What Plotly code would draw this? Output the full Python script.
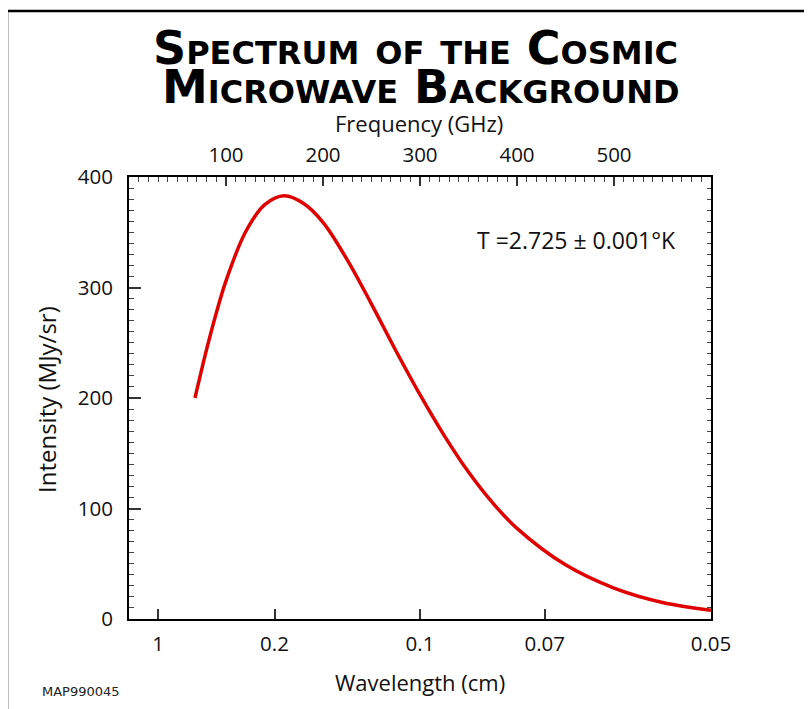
import plotly.graph_objects as go

# Data
frequency_ghz = [68, 80, 90, 100, 120, 140, 160, 180, 200, 225, 250, 275, 300,
                 325, 350, 375, 400, 450, 500, 550, 600]
intensity_mjy = [200, 244, 277, 306, 350, 375, 383, 376, 359, 325, 285, 243, 203,
                 166, 133, 105, 82, 49, 28, 15, 8]

top_tick_vals = [100, 200, 300, 400, 500]
top_tick_text = ["100", "200", "300", "400", "500"]
wavelength_labels = ["1", "0.2", "0.1", "0.07", "0.05"]
wavelength_freqs = [30, 150, 300, 428.57, 600]   # GHz positions of wavelength ticks
y_tick_vals = [0, 100, 200, 300, 400]

W, H = 812, 709
OFF = 8  # page body margin
L, R, T, B = 129, 711, 177, 619  # target screen pixels of plot area

def px(x):
    return (x - L) / (R - L)

def py(y):
    return (B - y) / (B - T)

FONT = "Open Sans, Noto Sans, sans-serif"
tick_font = dict(family=FONT, size=20.5, color="#111")

fig = go.Figure()
fig.add_trace(go.Scatter(x=frequency_ghz, y=intensity_mjy, mode="lines",
                         line=dict(color="#e00000", width=3.5, shape="spline"),
                         showlegend=False, hoverinfo="skip"))
fig.add_trace(go.Scatter(x=[0, 600], y=[0, 400], xaxis="x2", yaxis="y2", mode="markers",
                         marker=dict(opacity=0), showlegend=False, hoverinfo="skip"))

title_font = dict(family="DejaVu Sans", size=46, color="black", weight=900, variant="small-caps")

fig.update_layout(
    width=W, height=H,
    margin=dict(l=L - OFF, r=W - (R - OFF), t=T - OFF, b=H - (B - OFF)),
    paper_bgcolor="white", plot_bgcolor="white",
    xaxis=dict(range=[0, 600], tickvals=wavelength_freqs, ticktext=wavelength_labels,
               ticks="inside", ticklen=10, tickwidth=1.5, tickcolor="#333",
               showline=True, linewidth=2, linecolor="black", showgrid=False, zeroline=False,
               tickfont=tick_font, ticklabelstandoff=5),
    xaxis2=dict(range=[0, 600], overlaying="x", side="top", tickvals=top_tick_vals,
                ticktext=top_tick_text, ticks="inside", ticklen=9, tickwidth=1.5, tickcolor="#333",
                minor=dict(dtick=10, ticks="inside", ticklen=5, tickwidth=1, tickcolor="#444"),
                showline=True, linewidth=2, linecolor="black", showgrid=False, zeroline=False,
                tickfont=tick_font, ticklabelstandoff=5),
    yaxis=dict(range=[0, 400], tickvals=y_tick_vals, ticks="inside", ticklen=12, tickwidth=1.5,
               tickcolor="#333",
               minor=dict(dtick=10, ticks="inside", ticklen=5, tickwidth=1, tickcolor="#444"),
               showline=True, linewidth=2, linecolor="black", showgrid=False, zeroline=False,
               tickfont=tick_font, ticklabelstandoff=10),
    yaxis2=dict(range=[0, 400], overlaying="y", side="right", showticklabels=False,
                tickvals=y_tick_vals, ticks="inside", ticklen=5, tickwidth=1, tickcolor="#444",
                minor=dict(dtick=10, ticks="inside", ticklen=4, tickwidth=1, tickcolor="#444"),
                showline=True, linewidth=2, linecolor="black", showgrid=False, zeroline=False),
    shapes=[
        dict(type="line", xref="paper", yref="paper", x0=px(7), x1=px(840), y0=py(11), y1=py(11),
             line=dict(color="black", width=2.5)),
        dict(type="line", xref="paper", yref="paper", x0=px(7), x1=px(7), y0=py(11), y1=py(740),
             line=dict(color="black", width=2.5)),
    ],
    annotations=[
        dict(text="Spectrum of the Cosmic", xref="paper", yref="paper",
             x=px(415), y=py(48), xanchor="center", yanchor="middle", showarrow=False,
             font=title_font),
        dict(text="Microwave Background", xref="paper", yref="paper",
             x=px(421), y=py(87), xanchor="center", yanchor="middle", showarrow=False,
             font=title_font),
        dict(text="Frequency (GHz)", xref="paper", yref="paper", x=px(419), y=py(123),
             xanchor="center", yanchor="middle", showarrow=False,
             font=dict(family=FONT, size=22, color="#111")),
        dict(text="Wavelength (cm)", xref="paper", yref="paper", x=px(420), y=py(682),
             xanchor="center", yanchor="middle", showarrow=False,
             font=dict(family=FONT, size=22, color="#111")),
        dict(text="Intensity (MJy/sr)", xref="paper", yref="paper", x=px(46), y=py(400),
             xanchor="center", yanchor="middle", showarrow=False, textangle=-90,
             font=dict(family=FONT, size=24, color="#111")),
        dict(text="T =2.725 ± 0.001°K", xref="paper", yref="paper", x=px(576), y=py(240),
             xanchor="center", yanchor="middle", showarrow=False,
             font=dict(family=FONT, size=23, color="#111")),
        dict(text="MAP990045", xref="paper", yref="paper", x=px(40), y=py(691),
             xanchor="left", yanchor="middle", showarrow=False,
             font=dict(family="DejaVu Sans", size=13, color="#222")),
    ],
)

fig.write_html("out.html")
